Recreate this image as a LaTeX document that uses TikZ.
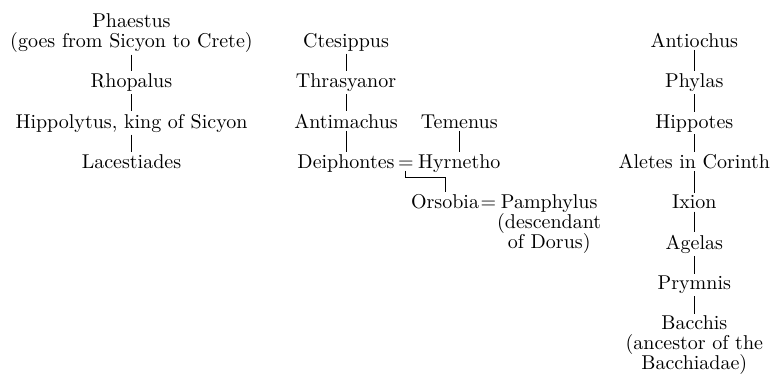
\documentclass[tikz,border=0pt]{standalone}
\usetikzlibrary{positioning}
\begin{document}
\begin{tikzpicture}[font=\fontsize{10pt}{10pt}\selectfont,line width=0.5pt,
  person/.style={inner sep=1pt,anchor=base,align=center},
  wed/.style={inner sep=1pt,anchor=base}]
\useasboundingbox (0,0) rectangle (13.60,-6.61);
% Sicyon
\node[person] (phaestus) at (2.31,-0.83) {Phaestus\\(goes from Sicyon to Crete)};
\node[person] (rhopalus) at (2.31,-1.54) {Rhopalus};
\node[person] (hippolytus) at (2.31,-2.25) {Hippolytus, king of Sicyon};
\node[person] (lacestiades) at (2.31,-2.96) {Lacestiades};
\draw (phaestus) -- (rhopalus);
\draw (rhopalus) -- (hippolytus);
\draw (hippolytus) -- (lacestiades);
% Argos
\node[person] (ctesippus) at (6.08,-0.83) {Ctesippus};
\node[person] (thrasyanor) at (6.08,-1.54) {Thrasyanor};
\node[person] (antimachus) at (6.08,-2.25) {Antimachus};
\node[person] (temenus) at (8.07,-2.25) {Temenus};
\node[person] (deiphontes) at (6.08,-2.96) {Deiphontes};
\node[wed] (eqa) at (7.13,-2.96) {=};
\node[person] (hyrnetho) at (8.07,-2.96) {Hyrnetho};
\node[person] (orsobia) at (7.82,-3.67) {Orsobia};
\node[wed] (eqb) at (8.58,-3.67) {=};
\node[person] (pamphylus) at (9.65,-4.37) {Pamphylus\\(descendant\\of Dorus)};
\draw (ctesippus) -- (thrasyanor);
\draw (thrasyanor) -- (antimachus);
\draw (antimachus) -- (deiphontes);
\draw (temenus) -- (hyrnetho);
\draw (eqa.south) |- ([yshift=7.5pt]orsobia.north) -- (orsobia.north);
% Corinth
\node[person] (antiochus) at (12.20,-0.83) {Antiochus};
\node[person] (phylas) at (12.20,-1.54) {Phylas};
\node[person] (hippotes) at (12.20,-2.25) {Hippotes};
\node[person] (aletes) at (12.20,-2.96) {Aletes in Corinth};
\node[person] (ixion) at (12.20,-3.67) {Ixion};
\node[person] (agelas) at (12.20,-4.38) {Agelas};
\node[person] (prymnis) at (12.20,-5.09) {Prymnis};
\node[person] (bacchis) at (12.20,-6.50) {Bacchis\\(ancestor of the\\Bacchiadae)};
\draw (antiochus) -- (phylas);
\draw (phylas) -- (hippotes);
\draw (hippotes) -- (aletes);
\draw (aletes) -- (ixion);
\draw (ixion) -- (agelas);
\draw (agelas) -- (prymnis);
\draw (prymnis) -- (bacchis);
\end{tikzpicture}
\end{document}
